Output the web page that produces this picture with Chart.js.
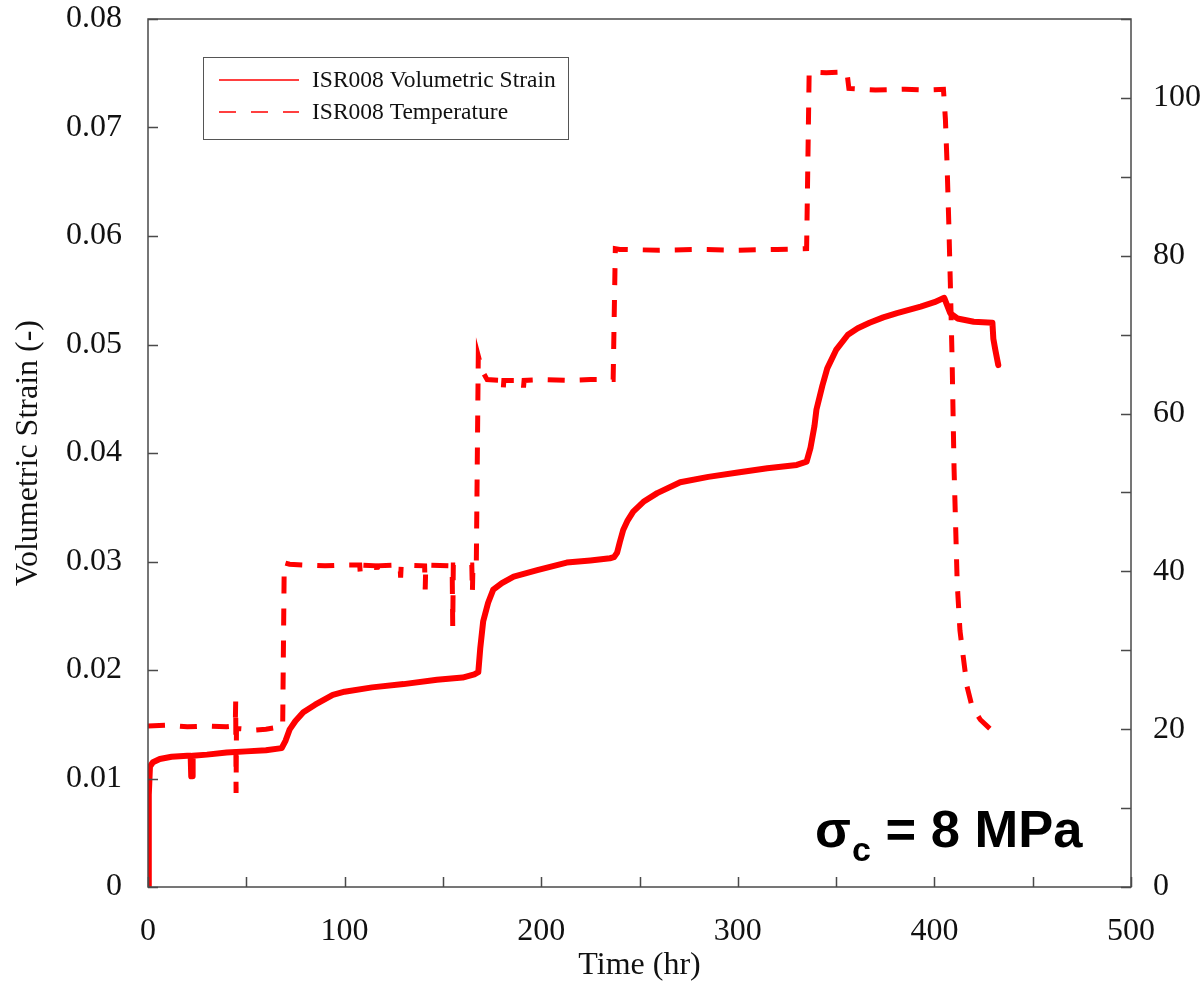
<!DOCTYPE html>
<html>
<head>
<meta charset="utf-8">
<script src="https://cdn.jsdelivr.net/npm/chart.js@4/dist/chart.umd.min.js"></script>
<style>
  html, body { margin: 0; padding: 0; background: #fff; }
  #wrap { width: 1203px; height: 985px; }
</style>
</head>
<body>
<div id="wrap"><canvas id="chart" width="1203" height="985"></canvas></div>
<script>
// volumetric strain (left axis)
const strainTime = [0, 0.4, 1, 2.5, 6, 12, 20, 21.7, 22, 22.4, 22.7, 30, 40, 50, 60, 68, 70, 72, 75, 79, 85, 94, 100, 114, 130, 147, 160, 166, 168, 169, 170.5, 173, 175.6, 180, 186, 198, 213, 225, 235, 237, 238.6, 240, 241.7, 244, 246.8, 252, 259, 270.7, 285, 300, 315, 330, 335, 337, 339, 340, 343, 345.5, 350, 356, 361, 367, 374, 381, 393, 400, 405, 408, 411.7, 420, 429.5, 430, 431, 432.5];
const strainValue = [0, 0.0085, 0.0111, 0.0115, 0.0118, 0.012, 0.0121, 0.0121, 0.0102, 0.0102, 0.0121, 0.0122, 0.0124, 0.0125, 0.0126, 0.0128, 0.0135, 0.0145, 0.0153, 0.0161, 0.0168, 0.0177, 0.018, 0.0184, 0.0187, 0.0191, 0.0193, 0.0196, 0.0198, 0.022, 0.0245, 0.0262, 0.0274, 0.028, 0.0286, 0.0292, 0.0299, 0.0301, 0.0303, 0.0304, 0.0308, 0.0318, 0.0329, 0.0338, 0.0346, 0.0355, 0.0363, 0.0373, 0.0378, 0.0382, 0.0386, 0.0389, 0.0392, 0.0405, 0.0425, 0.044, 0.0462, 0.0478, 0.0495, 0.0509, 0.0515, 0.052, 0.0525, 0.0529, 0.0535, 0.0539, 0.0543, 0.0529, 0.0524, 0.0521, 0.052, 0.0505, 0.0495, 0.0481];

// temperature (right axis)
const tempTime = [0, 10, 20, 30, 40, 44.4, 44.6, 44.8, 45, 50, 55, 60, 65, 68.5, 69.3, 72, 80, 90, 100, 107.7, 108, 108.3, 116.2, 116.5, 116.8, 128.2, 128.5, 128.8, 140.7, 141, 141.3, 154.7, 155, 155.3, 164.7, 165, 165.3, 167, 168, 170, 172.5, 180.4, 180.7, 181, 190.7, 191, 191.3, 200, 215, 225, 236.6, 237.7, 240, 260, 280, 300, 320, 335, 336.3, 345, 355.5, 356.5, 370, 385, 395, 404.6, 405.6, 406.4, 407.3, 408.1, 409, 410, 411.6, 413, 414.1, 416.6, 419.1, 423.4, 428.5, 433.5];
const tempValue = [20.4, 20.5, 20.3, 20.4, 20.3, 20.4, 23.5, 11.9, 20.1, 20.0, 19.9, 20.0, 20.2, 20.3, 41.1, 40.9, 40.8, 40.7, 40.8, 40.8, 39.6, 40.8, 40.7, 39.3, 40.7, 40.8, 39.2, 40.8, 40.7, 37.7, 40.8, 40.7, 33.0, 40.8, 40.8, 37.3, 40.9, 41.0, 67.3, 65.4, 64.3, 64.2, 63.1, 64.2, 64.2, 63.3, 64.2, 64.3, 64.2, 64.3, 64.3, 80.9, 80.8, 80.7, 80.8, 80.7, 80.8, 80.9, 103.3, 103.2, 103.3, 101.2, 101.0, 101.1, 101.0, 101.1, 97.3, 91.9, 84.3, 76.6, 66.9, 53.0, 38.5, 32.5, 30.3, 25.4, 22.9, 21.2, 20.0, 19.6];

const seriesNames = ['ISR008 Volumetric Strain', 'ISR008 Temperature'];
const xLabelTicks = [0, 100, 200, 300, 400, 500];
const tempLabelTicks = [0, 20, 40, 60, 80, 100];

const RED = '#ff0000';
const AXIS = '#4a4a4a';
const SERIF = '"Liberation Serif", "Times New Roman", serif';
const DASH = [17, 15];

const toPoints = (xs, ys) => xs.map((x, i) => ({ x: x, y: ys[i] }));

// frame + inward tick marks
const framePlugin = {
    id: 'frame',
    afterDraw(chart) {
        const ctx = chart.ctx;
        const a = chart.chartArea;
        ctx.save();
        ctx.strokeStyle = AXIS;
        ctx.lineWidth = 1.5;
        ctx.strokeRect(a.left, a.top, a.right - a.left, a.bottom - a.top);
        const len = 10;
        ctx.beginPath();
        chart.scales.x.ticks.forEach(t => {
            const px = Math.round(chart.scales.x.getPixelForValue(t.value)) + 0.5;
            ctx.moveTo(px, a.bottom);
            ctx.lineTo(px, a.bottom - len);
        });
        chart.scales.y.ticks.forEach(t => {
            const py = Math.round(chart.scales.y.getPixelForValue(t.value)) + 0.5;
            ctx.moveTo(a.left, py);
            ctx.lineTo(a.left + len, py);
        });
        chart.scales.y2.ticks.forEach(t => {
            const py = Math.round(chart.scales.y2.getPixelForValue(t.value)) + 0.5;
            ctx.moveTo(a.right, py);
            ctx.lineTo(a.right - len, py);
        });
        ctx.stroke();
        ctx.restore();
    }
};

// boxed legend inside the plot + sigma annotation
const legendBoxPlugin = {
    id: 'legendBox',
    afterDraw(chart) {
        const ctx = chart.ctx;
        const a = chart.chartArea;
        const bx = a.left + 55, by = a.top + 38, bw = 365, bh = 82;
        ctx.save();
        ctx.strokeStyle = '#555';
        ctx.lineWidth = 1;
        ctx.strokeRect(bx + 0.5, by + 0.5, bw, bh);
        ctx.font = '23.5px ' + SERIF;
        ctx.fillStyle = '#111';
        ctx.textBaseline = 'middle';
        chart.data.datasets.forEach((ds, i) => {
            const ly = by + 23 + i * 32;
            ctx.strokeStyle = RED;
            ctx.lineWidth = 1.5;
            ctx.setLineDash(i === 1 ? DASH : []);
            ctx.beginPath();
            ctx.moveTo(bx + 16, ly);
            ctx.lineTo(bx + 96, ly);
            ctx.stroke();
            ctx.setLineDash([]);
            ctx.fillText(ds.label, bx + 109, ly + 1);
        });

        // sigma_c = 8 MPa
        const sx = 815, sy = 847;
        ctx.fillStyle = '#000';
        ctx.textBaseline = 'alphabetic';
        ctx.font = 'bold 52.5px "Liberation Sans", Arial, sans-serif';
        ctx.fillText('σ', sx, sy);
        const sw = ctx.measureText('σ').width;
        ctx.font = 'bold 34px "Liberation Sans", Arial, sans-serif';
        ctx.fillText('c', sx + sw + 1, sy + 14);
        const cw = ctx.measureText('c').width;
        ctx.font = 'bold 52.5px "Liberation Sans", Arial, sans-serif';
        ctx.fillText(' = 8 MPa', sx + sw + cw + 1, sy);
        ctx.restore();
    }
};

new Chart(document.getElementById('chart').getContext('2d'), {
    type: 'line',
    data: {
        datasets: [
            {
                label: seriesNames[0],
                data: toPoints(strainTime, strainValue),
                yAxisID: 'y',
                borderColor: RED,
                borderWidth: 6,
                borderJoinStyle: 'round',
                borderCapStyle: 'round',
                pointRadius: 0,
                tension: 0
            },
            {
                label: seriesNames[1],
                data: toPoints(tempTime, tempValue),
                yAxisID: 'y2',
                borderColor: RED,
                borderWidth: 5,
                borderDash: DASH,
                pointRadius: 0,
                tension: 0
            }
        ]
    },
    options: {
        responsive: false,
        animation: false,
        layout: { padding: { top: 19, left: 0, right: 0, bottom: 0 } },
        plugins: {
            legend: { display: false },
            tooltip: { enabled: false }
        },
        scales: {
            x: {
                type: 'linear',
                min: 0,
                max: 500,
                grid: { display: false, drawTicks: false },
                border: { display: false },
                ticks: {
                    stepSize: 50,
                    padding: 25,
                    color: '#111',
                    font: { family: SERIF, size: 32 },
                    maxRotation: 0,
                    autoSkip: false,
                    callback: v => xLabelTicks.includes(v) ? String(v) : ''
                },
                title: {
                    display: true,
                    text: 'Time (hr)',
                    color: '#111',
                    font: { family: SERIF, size: 32 },
                    padding: { top: 0, bottom: 0 }
                },
                afterFit: s => { s.height = 98; s.paddingLeft = 0; s.paddingRight = 0; }
            },
            y: {
                type: 'linear',
                position: 'left',
                min: 0,
                max: 0.08,
                grid: { display: false, drawTicks: false },
                border: { display: false },
                ticks: {
                    stepSize: 0.01,
                    padding: 26,
                    color: '#111',
                    font: { family: SERIF, size: 32 },
                    callback: v => v === 0 ? '0' : v.toFixed(2)
                },
                title: {
                    display: true,
                    text: 'Volumetric Strain (-)',
                    color: '#111',
                    font: { family: SERIF, size: 32 },
                    padding: { top: 9, bottom: 0 }
                },
                afterFit: s => { s.width = 148; s.paddingTop = 0; s.paddingBottom = 0; }
            },
            y2: {
                type: 'linear',
                position: 'right',
                min: 0,
                max: 110,
                grid: { display: false, drawTicks: false },
                border: { display: false },
                ticks: {
                    stepSize: 10,
                    padding: 22,
                    color: '#111',
                    font: { family: SERIF, size: 32 },
                    autoSkip: false,
                    callback: v => tempLabelTicks.includes(v) ? String(v) : ''
                },
                afterFit: s => { s.width = 72; s.paddingTop = 0; s.paddingBottom = 0; }
            }
        }
    },
    plugins: [framePlugin, legendBoxPlugin]
});
</script>
</body>
</html>
